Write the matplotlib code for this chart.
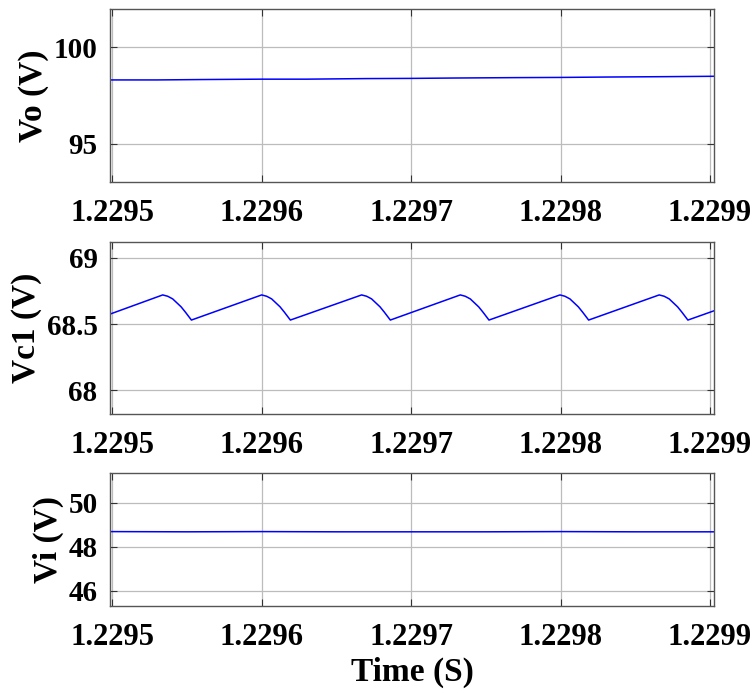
import matplotlib
matplotlib.use("Agg")
import matplotlib.pyplot as plt

# ---- data ----
xticks = [1.2295, 1.2296, 1.2297, 1.2298, 1.2299]
xtick_labels = ["1.2295", "1.2296", "1.2297", "1.2298", "1.2299"]
xlim = (1.2294985, 1.2299027)

vo_t = [1.2294985, 1.22953, 1.22956, 1.22960, 1.22963, 1.22967, 1.22970, 1.22973, 1.22977, 1.22980, 1.22983, 1.22987, 1.2299027]
vo_v = [98.31, 98.31, 98.33, 98.35, 98.35, 98.38, 98.39, 98.41, 98.43, 98.44, 98.46, 98.48, 98.50]

vc1_t = [1.2294985,
         1.22953378, 1.22953711, 1.22954045, 1.22954608, 1.22954895, 1.22955298,
         1.22960000, 1.22960333, 1.22960667, 1.22961230, 1.22961517, 1.22961920,
         1.22966689, 1.22967022, 1.22967356, 1.22967919, 1.22968206, 1.22968609,
         1.22973291, 1.22973624, 1.22973958, 1.22974521, 1.22974808, 1.22975211,
         1.22979960, 1.22980293, 1.22980627, 1.22981190, 1.22981477, 1.22981880,
         1.22986602, 1.22986935, 1.22987269, 1.22987832, 1.22988119, 1.22988522,
         1.2299027]
vc1_v = [68.575,
         68.72, 68.71, 68.69, 68.63, 68.59, 68.53,
         68.72, 68.71, 68.69, 68.63, 68.59, 68.53,
         68.72, 68.71, 68.69, 68.63, 68.59, 68.53,
         68.72, 68.71, 68.69, 68.63, 68.59, 68.53,
         68.72, 68.71, 68.69, 68.63, 68.59, 68.53,
         68.72, 68.71, 68.69, 68.63, 68.59, 68.53,
         68.60]

vi_t = [1.2294985, 1.22955, 1.22960, 1.22965, 1.22970, 1.22975, 1.22980, 1.22985, 1.2299027]
vi_v = [48.69, 48.68, 48.69, 48.68, 48.68, 48.68, 48.69, 48.68, 48.68]

ylabels = ["Vo (V)", "Vc1 (V)", "Vi (V)"]
yticks = [[95, 100], [68, 68.5, 69], [46, 48, 50]]
ytick_labels = [["95", "100"], ["68", "68.5", "69"], ["46", "48", "50"]]
ylims = [(93.0, 102.0), (67.82, 69.12), (45.3, 51.36)]
xlabel = "Time (S)"

# ---- figure ----
plt.rcParams['font.family'] = ['Liberation Serif', 'DejaVu Serif']
plt.rcParams['font.weight'] = 'bold'

fig = plt.figure(figsize=(7.55, 6.93), dpi=100)
positions = [
    [110/755, 1-182/693, 604/755, 173/693],
    [110/755, 1-414/693, 604/755, 172/693],
    [110/755, 1-606/693, 604/755, 133/693],
]
series = [(vo_t, vo_v), (vc1_t, vc1_v), (vi_t, vi_v)]

for i, pos in enumerate(positions):
    ax = fig.add_axes(pos)
    t, v = series[i]
    ax.plot(t, v, color='#0000ff', lw=1.1)
    ax.set_xlim(*xlim)
    ax.set_ylim(*ylims[i])
    ax.set_xticks(xticks)
    ax.set_xticklabels(xtick_labels, fontsize=22, fontweight='bold')
    ax.set_yticks(yticks[i])
    ax.set_yticklabels(ytick_labels[i], fontsize=21, fontweight='bold')
    ax.grid(True, color='#bcbcbc', lw=0.9)
    ax.tick_params(direction='in', top=True, right=True, length=5, width=0.8,
                   color='#333333')
    ax.tick_params(axis='y', pad=9)
    ax.tick_params(axis='x', pad=12)
    for s in ax.spines.values():
        s.set_color('#555555')
        s.set_linewidth(1.0)
    ax.set_ylabel(ylabels[i], fontsize=24, fontweight='bold', labelpad=3)

ax.set_xlabel(xlabel, fontsize=24, fontweight='bold', labelpad=4)

fig.savefig("out.png", dpi=100)
